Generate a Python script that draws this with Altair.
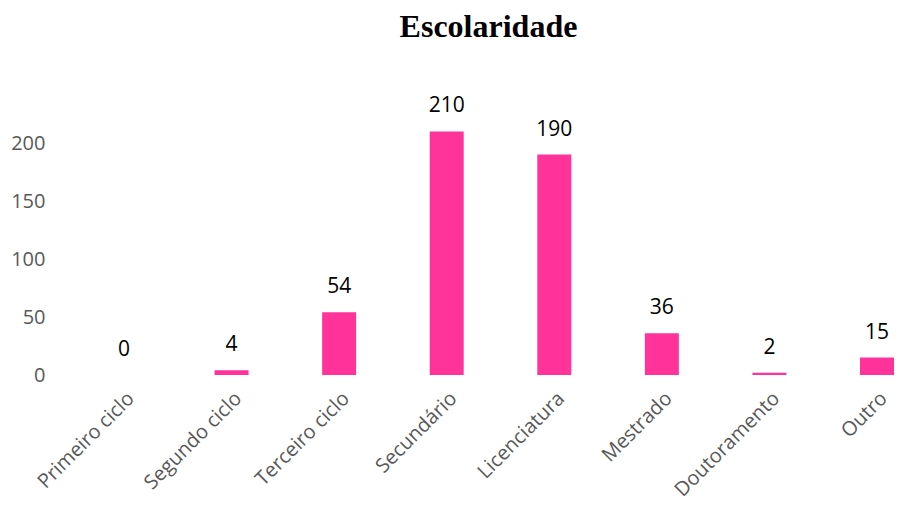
import altair as alt
import pandas as pd

categories = ["Primeiro ciclo", "Segundo ciclo", "Terceiro ciclo", "Secundário",
              "Licenciatura", "Mestrado", "Doutoramento", "Outro"]
values = [0, 4, 54, 210, 190, 36, 2, 15]
y_ticks = [0, 50, 100, 150, 200]

df = pd.DataFrame({"cat": categories, "val": values})

x = alt.X("cat:N", sort=categories, title=None,
          scale=alt.Scale(paddingInner=0.684, paddingOuter=0),
          axis=alt.Axis(labelAngle=-45, labelFont="Open Sans", labelFontSize=20,
                        labelColor="#595959", ticks=False, domain=False,
                        labelPadding=13, labelOverlap=False, labelLimit=300))
y = alt.Y("val:Q", title=None,
          scale=alt.Scale(domain=[0, 250], nice=False),
          axis=alt.Axis(values=y_ticks, labelFont="Open Sans", labelFontSize=20,
                        labelColor="#595959", ticks=False, domain=False, grid=False,
                        labelPadding=62))

bars = alt.Chart(df).mark_bar(color="#FF3399").encode(x=x, y=y)
labels = alt.Chart(df).mark_text(font="Open Sans", fontSize=21, color="#000000",
                                 baseline="alphabetic", dy=-19).encode(
    x=alt.X("cat:N", sort=categories), y="val:Q", text="val:Q")

chart = (bars + labels).properties(
    width=787, height=290,
    autosize=alt.AutoSizeParams(type="none"),
    padding={"left": 99, "top": 77, "right": 0, "bottom": 123},
    title=alt.TitleParams("Escolaridade", font="Liberation Serif", fontSize=32,
                          fontWeight="bold", color="#000000", anchor="middle",
                          frame="group", baseline="alphabetic", offset=16.5, dx=-12),
).configure_view(stroke=None)

chart.save("out.html", embed_options={"renderer": "svg", "actions": False})
